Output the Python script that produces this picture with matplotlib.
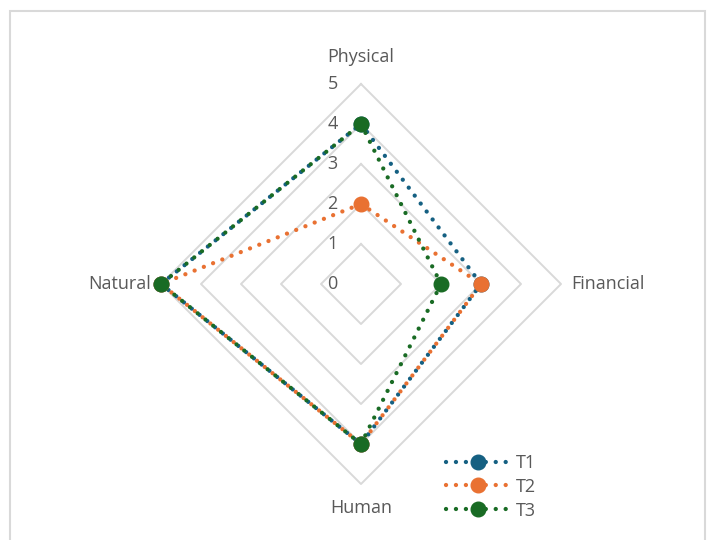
import matplotlib
matplotlib.use("Agg")
import matplotlib.pyplot as plt
from matplotlib.patches import Rectangle
import numpy as np

plt.rcParams['font.family'] = ['Open Sans', 'DejaVu Sans']

categories = ["Physical", "Financial", "Human", "Natural"]
series_names = ["T1", "T2", "T3"]
t1 = [4, 3, 4, 5]
t2 = [2, 3, 4, 5]
t3 = [4, 2, 4, 5]
ticks = [0, 1, 2, 3, 4, 5]
colors = ["#156082", "#E97132", "#196B24"]

W, H, DPI = 707, 540, 100
fig = plt.figure(figsize=(W / DPI, H / DPI), dpi=DPI)
fig.patch.set_facecolor("white")

# chart border
fig.add_artist(Rectangle((10 / W, -0.05), 695 / W, 1.05 - 11 / H,
                         transform=fig.transFigure, fill=False,
                         edgecolor="#d9d9d9", lw=1.5))

ax = fig.add_axes([0, 0, 1, 1])
unit = 40.0  # pixels per value unit
cx, cy = 361, 284
ax.set_xlim(-cx / unit, (W - cx) / unit)
ax.set_ylim(-(H - cy) / unit, cy / unit)
ax.axis("off")

# clockwise from the top
angles = np.deg2rad([90, 0, -90, 180])
dx, dy = np.cos(angles), np.sin(angles)

text_color = "#595959"
grid_color = "#d9d9d9"
fs = 13

for r in ticks[1:]:
    gx = np.append(r * dx, r * dx[0])
    gy = np.append(r * dy, r * dy[0])
    ax.plot(gx, gy, color=grid_color, lw=1.4, zorder=1)

for r in ticks:
    ax.text(-0.58, r, str(r), ha="right", va="center", fontsize=fs,
            color=text_color)

label_pos = [(0, 5.68, "center", "center"), (5.25, 0, "left", "center"),
             (0, -5.6, "center", "center"), (-5.25, 0, "right", "center")]
for cat, (lx, ly, ha, va) in zip(categories, label_pos):
    ax.text(lx, ly, cat, ha=ha, va=va, fontsize=fs, color=text_color)

dot_style = (0, (0.01, 2.3))
for name, vals, c in zip(series_names, [t1, t2, t3], colors):
    v = np.array(vals, dtype=float)
    xs = np.append(v * dx, v[0] * dx[0])
    ys = np.append(v * dy, v[0] * dy[0])
    ax.plot(xs, ys, color=c, lw=3.1, linestyle=dot_style,
            dash_capstyle="round", zorder=3)
    ax.plot(v * dx, v * dy, linestyle="none", marker="o", ms=10.5,
            color=c, zorder=4)
    ax.plot([], [], color=c, lw=3.1, linestyle=dot_style,
            dash_capstyle="round", marker="o", ms=10.5, label=name)

leg = ax.legend(loc="upper left", bbox_to_anchor=(437 / W, 1 - 445 / H),
                frameon=False, fontsize=fs, handlelength=3.55,
                handletextpad=0.3, labelspacing=0.32, borderpad=0,
                markerscale=1.0)
for t in leg.get_texts():
    t.set_color(text_color)

fig.savefig("out.png", dpi=DPI)
